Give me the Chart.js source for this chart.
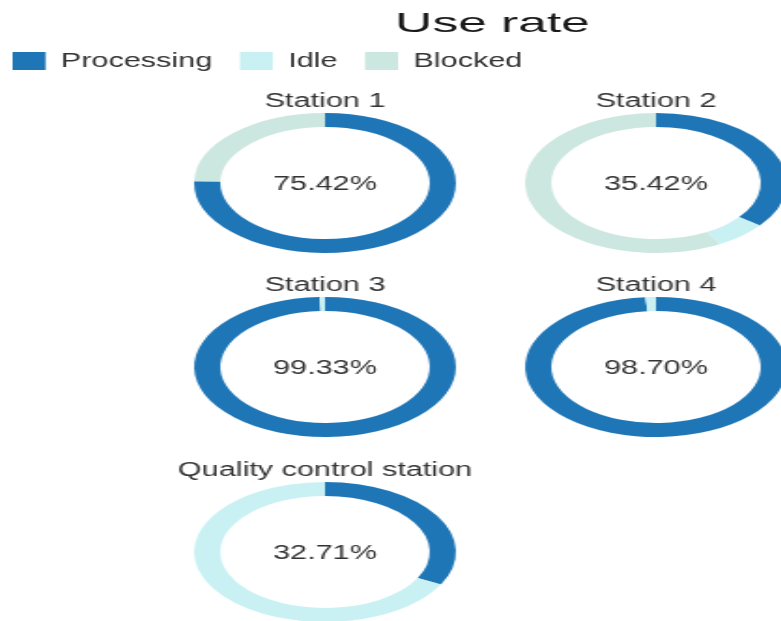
<!DOCTYPE html>
<html>
<head>
<meta charset="utf-8">
<script src="https://cdn.jsdelivr.net/npm/chart.js@4/dist/chart.umd.min.js"></script>
<style>
  html, body { margin: 0; padding: 0; background: #fff; }
  body { width: 781px; height: 621px; overflow: hidden; position: relative; }
  .box { position: absolute; }
  canvas { display: block; }
</style>
</head>
<body>
<div id="stage"></div>
<script>
// ---- data ----
const stations = ['Station 1', 'Station 2', 'Station 3', 'Station 4', 'Quality control station'];
const seriesNames = ['Processing', 'Idle', 'Blocked'];
const processing = [75.42, 35.42, 99.33, 98.70, 32.71];
const idle = [0, 6.5, 0.67, 1.30, 67.29];
const blocked = [24.58, 58.08, 0, 0, 0];
const chartTitle = 'Use rate';

// ---- style ----
const COLORS = ['#1f76b6', '#c9f1f3', '#cce7df'];
const FONT = "'Liberation Sans', Arial, Helvetica, sans-serif";
const RING_SX = 1.87;   // horizontal stretch of rings
const TEXT_SX = 1.53;   // horizontal stretch of small texts
const TITLE_SX = 1.84;  // horizontal stretch of main title

const stage = document.getElementById('stage');

// ---- header: title + legend ----
const HEAD_LEFT = -15.5;
const HEAD_W = 500, HEAD_H = 160;
const headBox = document.createElement('div');
headBox.className = 'box';
headBox.style.left = HEAD_LEFT + 'px';
headBox.style.top = '0px';
headBox.style.transformOrigin = '0 0';
headBox.style.transform = 'scaleX(' + TEXT_SX + ')';
const headCanvas = document.createElement('canvas');
headCanvas.width = HEAD_W; headCanvas.height = HEAD_H;
headCanvas.style.width = HEAD_W + 'px'; headCanvas.style.height = HEAD_H + 'px';
headBox.appendChild(headCanvas);
stage.appendChild(headBox);

const titlePlugin = {
  id: 'mainTitle',
  afterDraw(chart) {
    const ctx = chart.ctx;
    const x = (492 - HEAD_LEFT) / TEXT_SX;
    ctx.save();
    ctx.translate(x, 0);
    ctx.scale(TITLE_SX / TEXT_SX, 1);
    ctx.font = '28px ' + FONT;
    ctx.fillStyle = '#1a1a1a';
    ctx.textAlign = 'center';
    ctx.textBaseline = 'alphabetic';
    ctx.fillText(chartTitle, 0, 32);
    ctx.restore();
  }
};

new Chart(headCanvas, {
  type: 'doughnut',
  data: {
    labels: seriesNames,
    datasets: [{ data: [0, 0, 0], backgroundColor: COLORS, borderWidth: 0 }]
  },
  options: {
    responsive: false,
    animation: false,
    layout: { padding: { top: 33 } },
    plugins: {
      tooltip: { enabled: false },
      legend: {
        display: true,
        position: 'top',
        align: 'start',
        maxHeight: 100,
        labels: {
          boxWidth: 21.6,
          boxHeight: 18,
          padding: 18,
          color: '#333',
          font: { size: 20, family: FONT }
        }
      }
    }
  },
  plugins: [titlePlugin]
});

// ---- station doughnuts ----
const centers = [[325, 182.5], [656, 182.5], [325, 367], [656, 367], [325, 552]];
const CW = 180, CH = 190, CY = 103;

const stationText = {
  id: 'stationText',
  afterDraw(chart, args, opts) {
    const arc = chart.getDatasetMeta(0).data[0];
    const cx = arc.x, cy = arc.y;
    const ctx = chart.ctx;
    ctx.save();
    ctx.translate(cx, 0);
    ctx.scale(TEXT_SX / RING_SX, 1);
    ctx.font = '20px ' + FONT;
    ctx.fillStyle = '#333';
    ctx.textAlign = 'center';
    ctx.textBaseline = 'alphabetic';
    ctx.fillText(opts.title, 0, cy - 76.5);
    ctx.fillText(opts.pct, 0, cy + 7);
    ctx.restore();
  }
};

stations.forEach((name, i) => {
  const [cx, cy] = centers[i];
  const box = document.createElement('div');
  box.className = 'box';
  box.style.left = (cx - CW / 2) + 'px';
  box.style.top = (cy - CY) + 'px';
  box.style.width = CW + 'px';
  box.style.height = CH + 'px';
  box.style.transformOrigin = '50% 50%';
  box.style.transform = 'scaleX(' + RING_SX + ')';
  const cv = document.createElement('canvas');
  cv.width = CW; cv.height = CH;
  cv.style.width = CW + 'px'; cv.style.height = CH + 'px';
  box.appendChild(cv);
  stage.appendChild(box);

  new Chart(cv, {
    type: 'doughnut',
    data: {
      labels: seriesNames,
      datasets: [{
        data: [processing[i], idle[i], blocked[i]],
        backgroundColor: COLORS,
        borderWidth: 0,
        hoverOffset: 0
      }]
    },
    options: {
      responsive: false,
      animation: false,
      radius: 70,
      cutout: '80%',
      layout: { padding: { top: 2 * CY - CH } },
      plugins: {
        legend: { display: false },
        tooltip: { enabled: false },
        stationText: { title: name, pct: processing[i].toFixed(2) + '%' }
      }
    },
    plugins: [stationText]
  });
});
</script>
</body>
</html>
